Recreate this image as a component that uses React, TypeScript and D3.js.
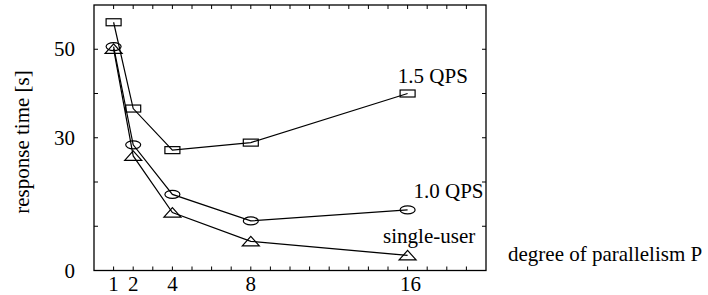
import React from "react";
import * as d3 from "d3";

const xValues = [1, 2, 4, 8, 16];
const qps15 = [56.1, 36.6, 27.2, 28.9, 40.0];
const qps10 = [50.6, 28.4, 17.2, 11.2, 13.7];
const singleUser = [50.1, 25.9, 13.1, 6.6, 3.4];
const xTickLabels = [1, 2, 4, 8, 16];
const yTickLabels = [0, 30, 50];
const seriesLabels = [
  { text: "1.5 QPS", x: 15.5, y: 42.4 },
  { text: "1.0 QPS", x: 16.3, y: 16.4 },
  { text: "single-user", x: 14.75, y: 6.2 },
];

const W = 708;
const H = 295;
const left = 94;
const right = 486;
const top = 5;
const bottom = 270.5;
const font = "Liberation Serif, DejaVu Serif, serif";
const ts = { fontFamily: font, fontSize: "21px" };

export default function App() {
  const x = d3.scaleLinear().domain([0, 20]).range([left, right]);
  const y = d3.scaleLinear().domain([0, 60]).range([bottom, top]);
  const line = d3
    .line<[number, number]>()
    .x((d) => x(d[0]))
    .y((d) => y(d[1]));
  const pts = (vals: number[]) => xValues.map((v, i) => [v, vals[i]] as [number, number]);

  const xMinor = d3.range(1, 20);
  const yMinor = d3.range(10, 60, 10);
  const tl = 4;

  return (
    <svg
      width={W}
      height={H}
      style={{ position: "absolute", left: 0, top: 0, background: "#fff" }}
    >
      <rect x={0} y={0} width={W} height={H} fill="#fff" />
      {xMinor.map((t) => (
        <g key={"xt" + t} stroke="#000" strokeWidth={1}>
          <line x1={x(t)} x2={x(t)} y1={bottom} y2={bottom - tl} />
          <line x1={x(t)} x2={x(t)} y1={top} y2={top + tl} />
        </g>
      ))}
      {yMinor.map((t) => (
        <g key={"yt" + t} stroke="#000" strokeWidth={1}>
          <line x1={left} x2={left + tl} y1={y(t)} y2={y(t)} />
          <line x1={right} x2={right - tl} y1={y(t)} y2={y(t)} />
        </g>
      ))}
      <rect
        x={left}
        y={top}
        width={right - left}
        height={bottom - top}
        fill="none"
        stroke="#000"
        strokeWidth={1.3}
      />
      {xTickLabels.map((t) => (
        <text key={"xl" + t} x={x(t) + (t === 16 ? 3 : 0)} y={291} style={ts} textAnchor="middle">
          {t}
        </text>
      ))}
      {yTickLabels.map((t) => (
        <text key={"yl" + t} x={75} y={y(t) + 7} style={ts} textAnchor="end">
          {t}
        </text>
      ))}
      <text transform={`translate(29,142) rotate(-90)`} style={ts} textAnchor="middle">
        response time [s]
      </text>
      <text x={508} y={261} style={ts}>
        degree of parallelism P
      </text>
      {[qps15, qps10, singleUser].map((s, i) => (
        <path key={"l" + i} d={line(pts(s)) || ""} fill="none" stroke="#000" strokeWidth={1.2} />
      ))}
      {pts(qps15).map((p, i) => (
        <rect
          key={"sq" + i}
          x={x(p[0]) - 7.5}
          y={y(p[1]) - 3.5}
          width={15}
          height={7}
          fill="none"
          stroke="#000"
          strokeWidth={1.2}
        />
      ))}
      {pts(qps10).map((p, i) => (
        <ellipse
          key={"ci" + i}
          cx={x(p[0])}
          cy={y(p[1])}
          rx={7.5}
          ry={4}
          fill="none"
          stroke="#000"
          strokeWidth={1.2}
        />
      ))}
      {pts(singleUser).map((p, i) => {
        const cx = x(p[0]);
        const cy = y(p[1]);
        return (
          <path
            key={"tr" + i}
            d={`M${cx},${cy - 5}L${cx + 8.5},${cy + 4.5}L${cx - 8.5},${cy + 4.5}Z`}
            fill="none"
            stroke="#000"
            strokeWidth={1.2}
          />
        );
      })}
      {seriesLabels.map((l) => (
        <text key={l.text} x={x(l.x)} y={y(l.y)} style={ts}>
          {l.text}
        </text>
      ))}
    </svg>
  );
}
